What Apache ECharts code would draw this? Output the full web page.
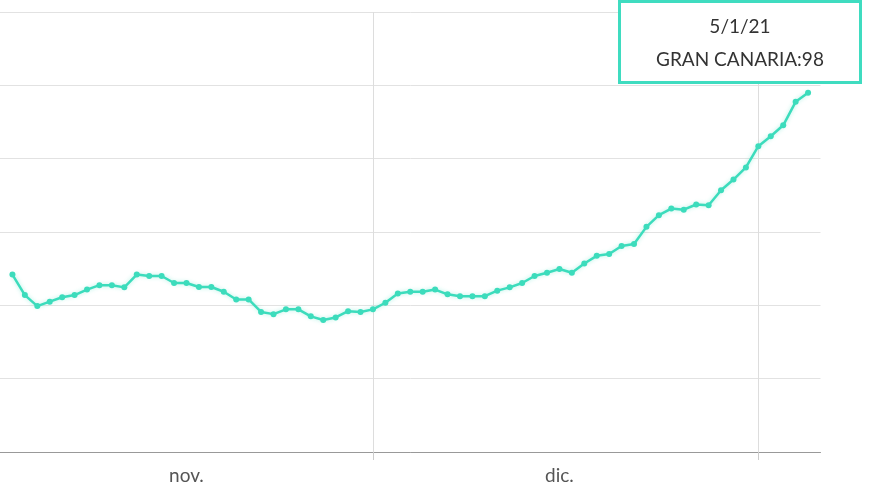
<!DOCTYPE html>
<html>
<head>
<meta charset="utf-8">
<script src="https://cdn.jsdelivr.net/npm/echarts@6/dist/echarts.min.js"></script>
<style>
  html, body { margin: 0; padding: 0; background: #fff; }
  #chart { width: 880px; height: 495px; }
</style>
</head>
<body>
<div id="chart"></div>
<script>
// datos: 1/11/20 .. 6/1/21 (primer y último día fuera de la serie)
const seriesName = 'GRAN CANARIA';
const values = [
  null,
  48.4, 42.8, 39.8, 41, 42.2, 42.8, 44.3, 45.5, 45.5, 44.9,
  48.4, 48, 48, 46.1, 46.1, 45, 45, 43.7, 41.6, 41.6,
  38.2, 37.6, 38.9, 38.9, 37, 36, 36.7, 38.4, 38.2,
  38.9, 40.7, 43.2, 43.7, 43.7, 44.3, 43, 42.5, 42.5,
  42.5, 44, 44.9, 46.1, 48, 48.9, 49.9, 48.9, 51.4, 53.5,
  54, 56.2, 56.7, 61.4, 64.6, 66.4, 66.1, 67.5, 67.3, 71.4,
  74.3, 77.6, 83.4, 86.1, 89.1, 95.5, 98,
  null
];
const monthLabels = { 15: 'nov.', 45: 'dic.' };
const monthStarts = [30, 61];

// categorías de fecha d/m/yy
const dates = [];
for (let d = new Date(2020, 10, 1, 12); dates.length < values.length; d.setDate(d.getDate() + 1)) {
  dates.push(d.getDate() + '/' + (d.getMonth() + 1) + '/' + String(d.getFullYear()).slice(2));
}

const chart = echarts.init(document.getElementById('chart'));
chart.setOption({
  animation: false,
  grid: { left: -7.5, right: 59.5, top: 12, bottom: 43 },
  tooltip: {
    trigger: 'item',
    position: [618, 0],
    backgroundColor: '#fff',
    borderColor: '#3fdcc0',
    borderWidth: 3,
    padding: [6, 16],
    extraCssText: 'border-radius:0;box-shadow:none;text-align:center;width:206px;line-height:33px;',
    textStyle: { fontFamily: 'Lato', fontSize: 19, color: '#333' },
    formatter: p => p.name + '<br/>' + seriesName + ':' + p.value
  },
  xAxis: {
    type: 'category',
    data: dates,
    boundaryGap: false,
    axisLine: { lineStyle: { color: '#999' } },
    axisTick: { interval: i => monthStarts.includes(i), length: 8, lineStyle: { color: '#ccc' } },
    axisLabel: {
      interval: i => i in monthLabels,
      formatter: (v, i) => monthLabels[i] || '',
      fontFamily: 'Lato', fontSize: 19, color: '#555', margin: 14
    },
    splitLine: { show: true, interval: i => monthStarts.includes(i), lineStyle: { color: '#ddd' } }
  },
  yAxis: {
    type: 'value', min: 0, max: 120, interval: 20,
    axisLabel: { show: false },
    axisLine: { show: false }, axisTick: { show: false },
    splitLine: { lineStyle: { color: '#e2e2e2' } }
  },
  series: [{
    name: seriesName,
    type: 'line',
    data: values,
    symbol: 'circle',
    symbolSize: 6,
    showAllSymbol: true,
    itemStyle: { color: '#3cdcbc' },
    lineStyle: { color: '#3cdcbc', width: 2.5, shadowColor: 'rgba(60,220,188,0.4)', shadowBlur: 4 }
  }]
});
chart.dispatchAction({ type: 'showTip', seriesIndex: 0, dataIndex: 65 });
</script>
</body>
</html>
